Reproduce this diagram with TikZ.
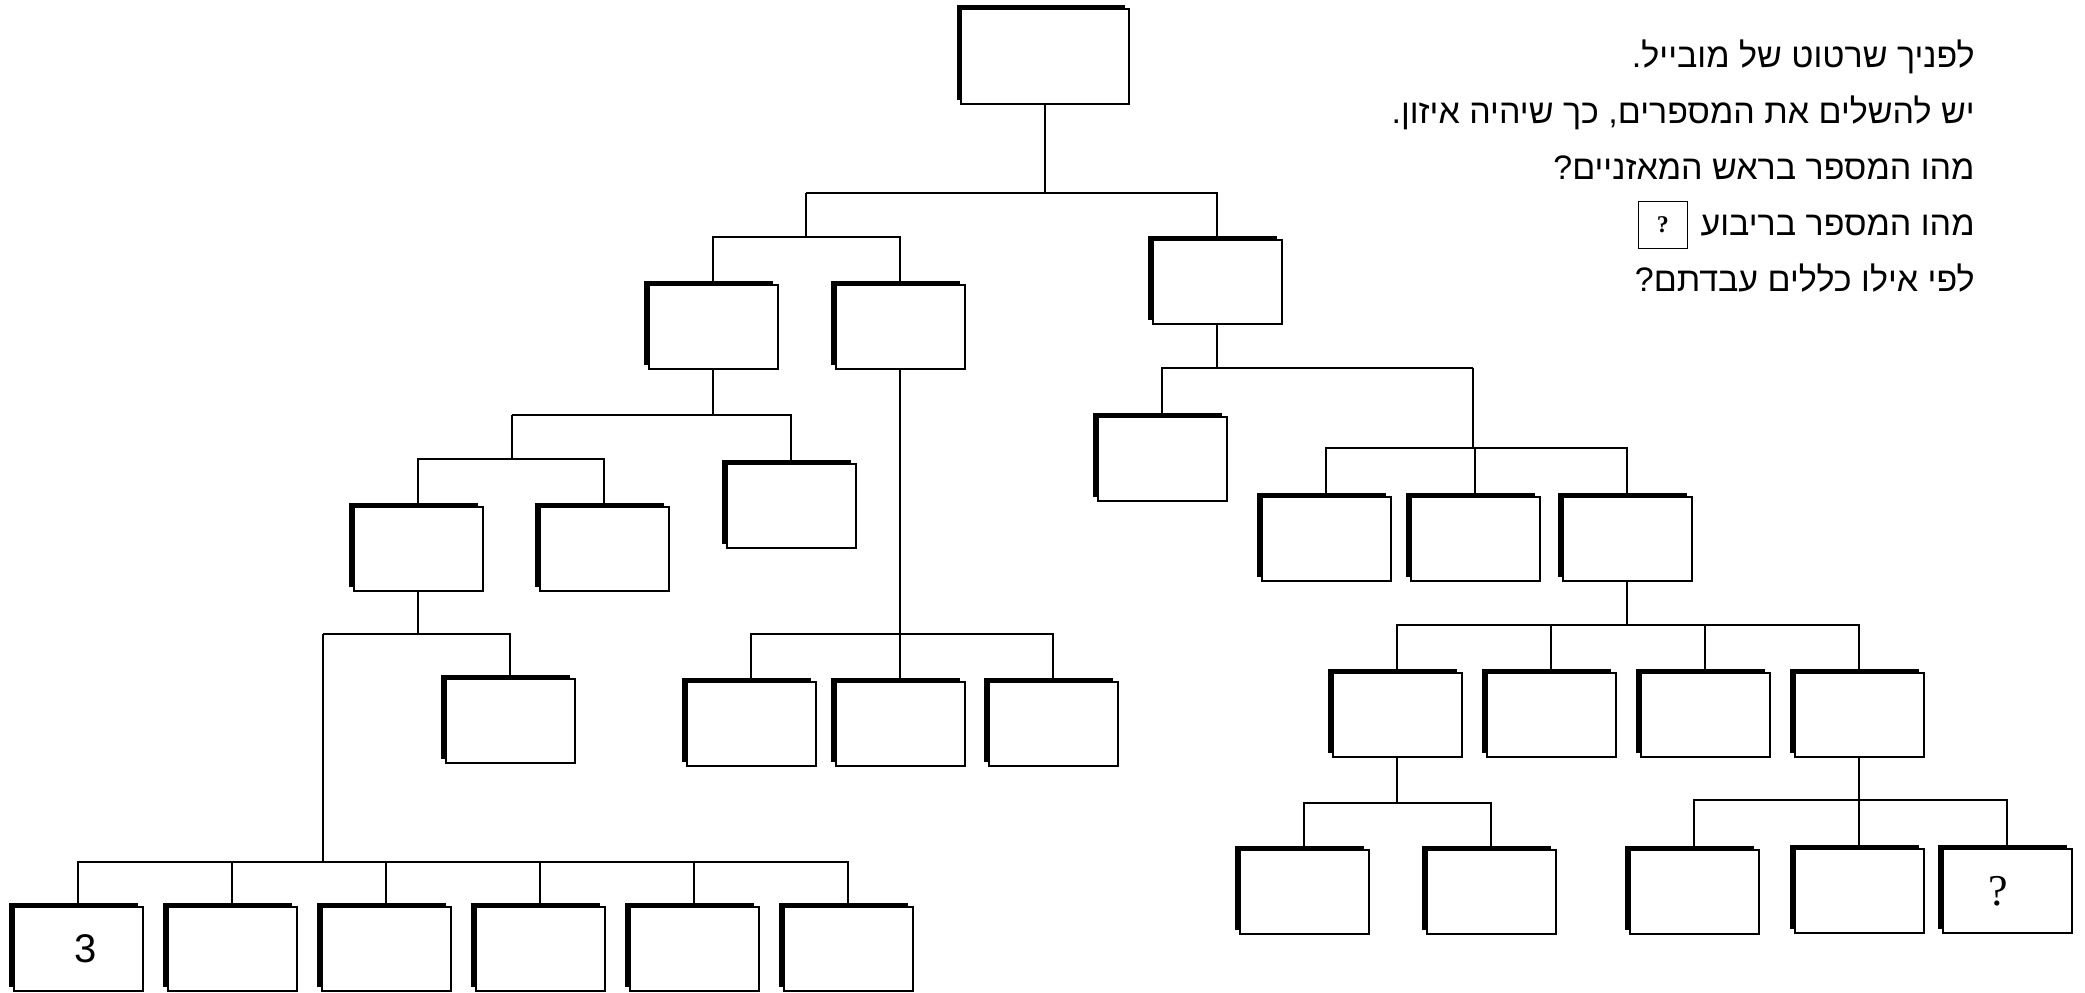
\documentclass[tikz,border=0pt]{standalone}
\usepackage{fontspec}
\setmainfont{Liberation Serif}
\newfontfamily\hebfont[Script=Hebrew]{Liberation Sans}
\newfontfamily\numfont{Liberation Sans}
\TeXXeTstate=1
\usetikzlibrary{positioning,shadows}

\begin{document}
\begin{tikzpicture}[
  x=0.5pt, y=-0.5pt,
  slot/.style={draw, fill=white, line width=1pt, inner sep=0pt,
    minimum width=64.5pt, minimum height=42pt,
    general shadow={fill=black, shadow xshift=-2.25pt, shadow yshift=2.25pt}},
  wire/.style={line width=1pt},
  say/.style={anchor=base east, inner sep=0pt,
    font=\hebfont\fontsize{17}{20}\selectfont}]

\newcommand{\hang}[3]{\draw[wire] (#1) -- (#1 |- 0,#2) -| (#3);}

\useasboundingbox (0,0) rectangle (2085,992);

% ---- the question, top right ----
\node[say] (t1) at (1975,67)  {\beginR לפניך שרטוט של מובייל.\endR};
\node[say] (t2) at (1975,123) {\beginR יש להשלים את המספרים, כך שיהיה איזון.\endR};
\node[say] (t3) at (1975,179) {\beginR מהו המספר בראש המאזניים?\endR};
\node[say] (t4) at (1975,235) {\beginR מהו המספר בריבוע\endR};
\node[draw, line width=0.8pt, minimum width=24.5pt, minimum height=23.5pt,
  inner sep=0pt, font=\bfseries\fontsize{12}{12}\selectfont, left=6pt of t4] (ask) {?};
\node[say] (t5) at (1975,291) {\beginR לפי אילו כללים עבדתם?\endR};

% ---- the mobile: boxes ----
\node[slot, minimum width=84pt, minimum height=47.5pt] (top) at (1045,56.5) {};

% left arm
\node[slot] (l1) at (713,327) {};
\node[slot] (l2) at (900,327) {};
\node[slot] (r)  at (791,506) {};
\node[slot] (l3a) at (418,549) {};
\node[slot] (l3b) at (604,549) {};
\node[slot] (s)  at (510,721) {};
\node[slot, font=\numfont\fontsize{20}{20}\selectfont] (b1) at (78,949) {\kern8pt3};
\foreach \i/\x in {2/232,3/386,4/540,5/694,6/848}
  \node[slot] (b\i) at (\x,949) {};
\foreach \i/\x in {1/751,2/900,3/1053}
  \node[slot] (m\i) at (\x,724) {};

% right arm
\node[slot] (a)  at (1217,282) {};
\node[slot] (a1) at (1162,459) {};
\foreach \i/\x in {1/1326,2/1475,3/1627}
  \node[slot] (p\i) at (\x,539) {};
\foreach \i/\x in {1/1397,2/1551,3/1705,4/1859}
  \node[slot] (c\i) at (\x,715) {};
\node[slot] (d1) at (1304,892) {};
\node[slot] (d2) at (1491,892) {};
\node[slot] (e1) at (1694,892) {};
\node[slot] (e2) at (1859,891) {};
\node[slot, font=\fontsize{22}{22}\selectfont] (e3) at (2007,891) {?\kern9pt};

% ---- the strings ----
\coordinate (j1) at (806,193);
\coordinate (j2) at (512,415);
\coordinate (j3) at (322.7,634);
\coordinate (j4) at (1473,368);

\hang{top.south}{193}{j1}
\hang{top.south}{193}{a.north}
\hang{j1}{237}{l1.north}
\hang{j1}{237}{l2.north}
\hang{l1.south}{415}{j2}
\hang{l1.south}{415}{r.north}
\hang{j2}{459}{l3a.north}
\hang{j2}{459}{l3b.north}
\hang{l3a.south}{634}{j3}
\hang{l3a.south}{634}{s.north}
\foreach \i in {1,...,6} {\hang{j3}{862}{b\i.north}}
\foreach \i in {1,2,3} {\hang{l2.south}{634}{m\i.north}}

\hang{a.south}{368}{a1.north}
\hang{a.south}{368}{j4}
\foreach \i in {1,2,3} {\hang{j4}{448}{p\i.north}}
\foreach \i in {1,...,4} {\hang{p3.south}{625}{c\i.north}}
\hang{c1.south}{803}{d1.north}
\hang{c1.south}{803}{d2.north}
\foreach \i in {1,2,3} {\hang{c4.south}{800}{e\i.north}}

\end{tikzpicture}
\end{document}
